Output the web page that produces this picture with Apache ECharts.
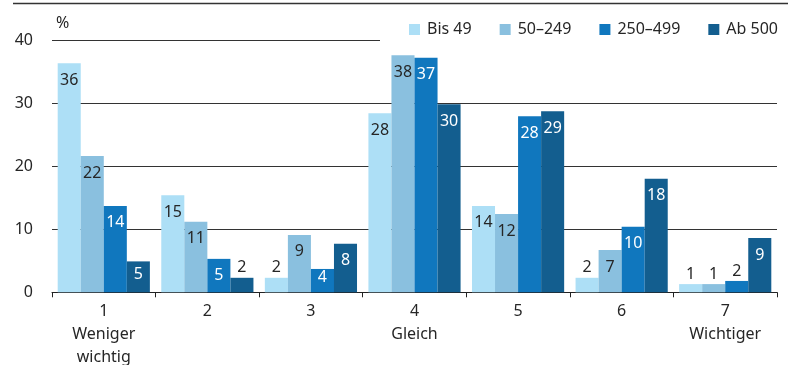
<!DOCTYPE html>
<html>
<head>
<meta charset="utf-8">
<script src="https://cdn.jsdelivr.net/npm/echarts@6/dist/echarts.min.js"></script>
<style>
  html, body { margin: 0; padding: 0; background: #fff; }
  #chart { width: 790px; height: 365px; }
</style>
</head>
<body>
<div id="chart"></div>
<script>
// Rating scale from 1 (less important) to 7 (more important)
const categories = ['1\nWeniger\nwichtig', '2', '3', '4\nGleich', '5', '6', '7\nWichtiger'];

// Share of firms by size class, in percent
const seriesNames = ['Bis 49', '50–249', '250–499', 'Ab 500'];
const bis49   = [36.3, 15.4, 2.3, 28.4, 13.7, 2.3, 1.3];
const s50_249 = [21.6, 11.2, 9.1, 37.6, 12.4, 6.7, 1.3];
const s250_499 = [13.7, 5.3, 3.7, 37.2, 27.9, 10.4, 1.8];
const ab500   = [4.9, 2.3, 7.7, 29.8, 28.7, 18.0, 8.6];

const yTicks = [0, 10, 20, 30, 40];

const colors = ['#addff6', '#8ac0df', '#1077be', '#135e8f'];
const labelColors = ['#262626', '#262626', '#ffffff', '#ffffff'];
const FONT = 'Noto Sans';
const FS = 16;

// Short bars get their value above the bar, others inside near the top
function makeSeries(name, values, idx) {
  return {
    name: name,
    type: 'bar',
    barGap: '0%',
    barCategoryGap: '11%',
    itemStyle: { color: colors[idx] },
    data: values.map(v => {
      const small = v < 3;
      return {
        value: v,
        label: {
          show: true,
          position: small ? 'top' : 'insideTop',
          distance: small ? 2 : (v < 4.5 ? 0 : (v < 5 ? 5 : 9)),
          color: small ? '#262626' : labelColors[idx],
          fontFamily: FONT,
          fontSize: FS,
          formatter: p => String(Math.round(p.value))
        }
      };
    })
  };
}

const chart = echarts.init(document.getElementById('chart'), null, { renderer: 'canvas' });
chart.setOption({
  animation: false,
  backgroundColor: '#ffffff',
  textStyle: { fontFamily: FONT, color: '#262626' },
  grid: { left: 52, right: 13, top: 40, bottom: 72.7, containLabel: false, outerBoundsMode: 'none' },
  legend: {
    data: seriesNames,
    left: 380,
    top: 10,
    padding: [10, 4, 10, 29],
    backgroundColor: '#ffffff',
    itemWidth: 11,
    itemHeight: 11,
    itemGap: 28,
    icon: 'rect',
    textStyle: { fontFamily: FONT, fontSize: FS, color: '#262626', lineHeight: 19, padding: [0, 0, 0, 2] },
    z: 10
  },
  xAxis: {
    type: 'category',
    data: categories,
    axisLine: { lineStyle: { color: '#222', width: 1 } },
    axisTick: { show: true, alignWithLabel: false, length: 5, lineStyle: { color: '#222' } },
    axisLabel: {
      fontFamily: FONT, fontSize: FS, color: '#262626',
      lineHeight: 23, margin: 8, interval: 0
    }
  },
  yAxis: {
    type: 'value',
    min: yTicks[0],
    max: yTicks[yTicks.length - 1],
    interval: 10,
    axisLine: { show: false },
    axisTick: { show: false },
    axisLabel: { fontFamily: FONT, fontSize: FS, color: '#262626', margin: 19 },
    splitLine: { lineStyle: { color: '#333', width: 1 } }
  },
  graphic: [
    {
      type: 'line',
      shape: { x1: 13, y1: 3.5, x2: 788, y2: 3.5 },
      style: { stroke: '#333', lineWidth: 1.5 },
      z: 20
    },
    {
      type: 'text',
      left: 56,
      top: 15,
      style: { text: '%', font: FS + 'px "Noto Sans"', fill: '#262626' }
    }
  ],
  series: [
    makeSeries(seriesNames[0], bis49, 0),
    makeSeries(seriesNames[1], s50_249, 1),
    makeSeries(seriesNames[2], s250_499, 2),
    makeSeries(seriesNames[3], ab500, 3)
  ]
});
</script>
</body>
</html>
